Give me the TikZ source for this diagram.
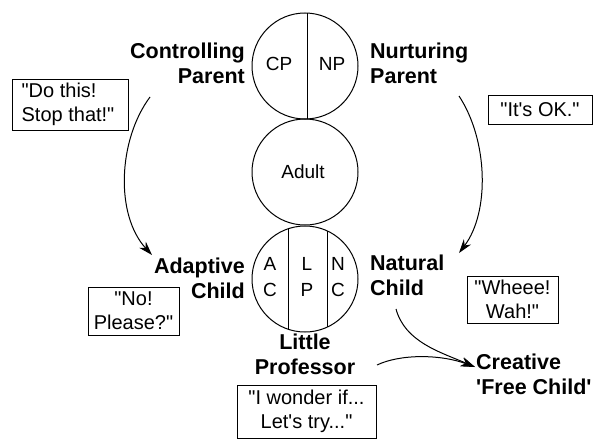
\documentclass[tikz,border=0pt]{standalone}
\usepackage{fontspec}
\setmainfont{Liberation Sans}[Ligatures=TeXOff]
\usetikzlibrary{arrows.meta}
\begin{document}
\begin{tikzpicture}[x=1pt,y=-1pt,
  ring/.style={draw,line width=1pt},
  lbl/.style={font=\fontsize{21.5}{25}\selectfont\bfseries,inner sep=0pt},
  quote/.style={draw,line width=1pt,font=\fontsize{20}{24}\selectfont,inner sep=0pt,align=center},
  intext/.style={font=\fontsize{19}{26}\selectfont,inner sep=0pt},
  flow/.style={line width=1pt,-{Stealth[length=14pt,width=9pt]}}]
\useasboundingbox (0,0) rectangle (593,439);
% circles
\draw[ring] (305,66) circle[radius=53];
\draw[ring] (305,172) circle[radius=53];
\draw[ring] (305,279) circle[radius=53];
\begin{scope}
  \clip (305,66) circle[radius=53];
  \draw[line width=1pt] (307,10) -- (307,122);
\end{scope}
\begin{scope}
  \clip (305,279) circle[radius=53];
  \draw[line width=1pt] (288,220) -- (288,340);
  \draw[line width=1pt] (327,220) -- (327,340);
\end{scope}
% circle texts
\node[intext] (cp) at (279,64) {CP};
\node[intext] (np) at (332,64) {NP};
\node[intext] (adult) at (303,172) {Adult};
\node[intext,align=center] (ac) at (270,277) {A\\C};
\node[intext,align=center] (lp) at (307,277) {L\\P};
\node[intext,align=center] (nc) at (338,277) {N\\C};
% labels
\node[lbl,align=right,anchor=east] (ctrl) at (245,63) {Controlling\\Parent};
\node[lbl,align=left,anchor=west] (nurt) at (370,63) {Nurturing\\Parent};
\node[lbl,align=right,anchor=east] (adap) at (245,278) {Adaptive\\Child};
\node[lbl,align=left,anchor=west] (nat) at (370,275) {Natural\\Child};
\node[lbl,align=center] (litp) at (305,354) {Little\\Professor};
\node[lbl,align=left,anchor=west] (crea) at (476,374) {Creative\\'Free Child'};
% quote boxes
\node[quote,align=left,minimum width=116pt,minimum height=51pt] (q1) at (70,104.5) {\hspace*{-4pt}"Do this!\\\hspace*{-4pt}Stop that!"};
\node[quote,minimum width=104pt,minimum height=29pt] (q2) at (540,109.5) {"It's OK."};
\node[quote,minimum width=91pt,minimum height=48pt] (q3) at (133.5,311) {"No!\\Please?"};
\node[quote,minimum width=91pt,minimum height=47pt] (q4) at (512.5,299.5) {"Wheee!\\Wah!"};
\node[quote,minimum width=139pt,minimum height=53pt] (q5) at (306.5,411.5) {"I wonder if...\\Let's try..."};
% arrows
\coordinate (a1s) at (150,97);
\coordinate (a1e) at (152,255);
\coordinate (a2s) at (459,96);
\coordinate (a2e) at (459,253);
\coordinate (a3s) at (396,309);
\coordinate (a4s) at (377,365);
\coordinate (tip) at (475,367);
\draw[flow] (a1s) .. controls (118,140) and (115,215) .. (a1e);
\draw[flow] (a2s) .. controls (488,140) and (490,212) .. (a2e);
\draw[flow] (a3s) .. controls (405,342) and (440,352) .. (tip);
\draw[flow] (a4s) .. controls (400,354) and (440,354) .. (tip);
\end{tikzpicture}
\end{document}
